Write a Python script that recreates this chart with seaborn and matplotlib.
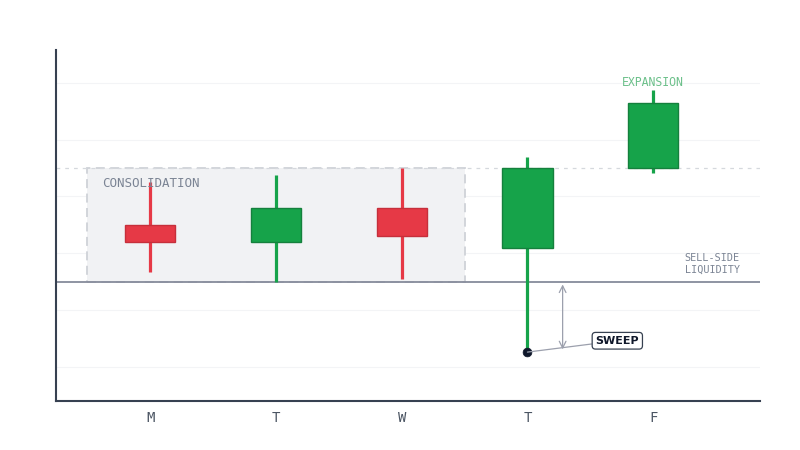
import matplotlib
matplotlib.use("Agg")
from matplotlib import pyplot as plt
from matplotlib.patches import Rectangle
import pandas as pd
import seaborn as sns

days = ['M', 'T', 'W', 'T', 'F']
opens = [3.50, 3.20, 3.80, 3.10, 4.50]
closes = [3.20, 3.80, 3.31, 4.50, 5.65]
highs = [4.26, 4.38, 4.50, 4.70, 5.88]
lows = [2.67, 2.50, 2.55, 1.26, 4.42]

liquidity = 2.50
range_top = 4.50
sweep_low = 1.26

df = pd.DataFrame({'day': range(len(days)), 'open': opens, 'close': closes,
                   'high': highs, 'low': lows})
df['up'] = df['close'] >= df['open']

sns.set_theme(style='white')
plt.rcParams['font.family'] = ['DejaVu Sans Mono', 'DejaVu Sans']

GREEN = '#16a34a'
GREEN_EDGE = '#15803d'
RED = '#e63946'
RED_EDGE = '#c62f3b'
NAVY = '#374151'

fig = plt.figure(figsize=(8, 4.5), dpi=100)
ax = fig.add_axes([0.07, 0.109, 0.88, 0.78])

# consolidation box
ax.add_patch(Rectangle((-0.5, liquidity), 3.0, range_top - liquidity,
                       facecolor='#f1f2f4', edgecolor='#cfd2d8', lw=1.3,
                       ls=(0, (5, 3)), zorder=1))
ax.text(-0.38, 4.22, 'CONSOLIDATION', color='#7b8494', fontsize=9,
        va='center', ha='left', zorder=4)

# horizontal levels
ax.axhline(range_top, color='#d5d8dd', lw=0.9, ls=(0, (3, 4)), zorder=1)
ax.axhline(liquidity, color='#868b9b', lw=1.3, zorder=2)

# candles
for _, r in df.iterrows():
    c = GREEN if r['up'] else RED
    ec = GREEN_EDGE if r['up'] else RED_EDGE
    ax.vlines(r['day'], r['low'], r['high'], color=c, lw=2.3, zorder=3)
    lo = min(r['open'], r['close'])
    ax.bar(r['day'], abs(r['close'] - r['open']), bottom=lo, width=0.4,
           color=c, edgecolor=ec, lw=1, zorder=4)

# sweep marker
sns.scatterplot(x=[3], y=[sweep_low], color='#0f172a', s=40, zorder=6,
                ax=ax, legend=False, edgecolor='#0f172a')
ax.annotate('', xy=(3.28, liquidity), xytext=(3.28, sweep_low),
            arrowprops=dict(arrowstyle='<->', color='#9ca0ad', lw=0.9),
            zorder=5)
ax.annotate('SWEEP', xy=(3.0, sweep_low), xytext=(3.715, 1.46),
            fontsize=8, fontweight='bold', color='#0f172a',
            family='DejaVu Sans', ha='center', va='center',
            bbox=dict(boxstyle='round,pad=0.3', fc='white', ec='#374151', lw=0.9),
            arrowprops=dict(arrowstyle='-', color='#9ca0ad', lw=0.9,
                            shrinkA=0, shrinkB=0),
            zorder=6)

ax.text(4.25, 2.81, 'SELL-SIDE\nLIQUIDITY', color='#7b8494', fontsize=7.3,
        ha='left', va='center', linespacing=1.15)
ax.text(4.0, 6.0, 'EXPANSION', color='#6cc08a', fontsize=8.3,
        ha='center', va='center')

ax.set_xlim(-0.75, 4.85)
ax.set_ylim(0.40, 6.58)
ax.set_xticks(range(len(days)))
ax.set_xticklabels(days, fontsize=10, color='#4b5563')
ax.set_yticks([1, 2, 3, 4, 5, 6])
ax.set_yticklabels([])
ax.tick_params(axis='y', length=0)
ax.tick_params(axis='x', length=3, color=NAVY, width=1, pad=4)
ax.grid(axis='y', color='#f3f4f6', lw=0.8)
ax.set_axisbelow(True)
for s in ['top', 'right']:
    ax.spines[s].set_visible(False)
for s in ['left', 'bottom']:
    ax.spines[s].set_color(NAVY)
    ax.spines[s].set_linewidth(1.5)

fig.savefig('out.png', dpi=100)
